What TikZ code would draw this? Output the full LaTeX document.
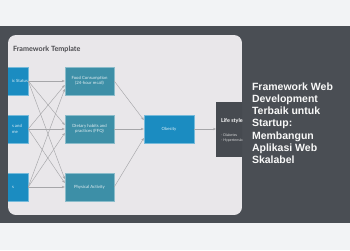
\documentclass[tikz,border=0pt]{standalone}
\usepackage{fontspec}
\setmainfont{Lato}
\newfontfamily\headfont{Liberation Sans}
\usetikzlibrary{arrows.meta, calc}
\definecolor{band}{HTML}{F2F3F5}
\definecolor{slate}{HTML}{4A4E54}
\definecolor{card}{HTML}{E9E7EA}
\definecolor{cyanbox}{HTML}{1B8CC1}
\definecolor{tealbox}{HTML}{3D8FA7}
\definecolor{lifebox}{HTML}{464A50}
\definecolor{wire}{HTML}{A6A6A9}
\definecolor{titleink}{HTML}{4A4A4E}

\begin{document}
\begin{tikzpicture}[x=1pt, y=-1pt,
    cbox/.style={fill=cyanbox, draw=cyanbox!60!white, line width=0.4pt, inner sep=0pt},
    tbox/.style={fill=tealbox, draw=tealbox!60!white, line width=0.4pt, inner sep=0pt,
      minimum width=49pt, minimum height=28pt, align=center, text=white!85!tealbox,
      font=\fontsize{4.3}{5.4}\selectfont},
    arr/.style={-{Stealth[length=3pt, width=2.4pt]}, wire, line width=0.45pt}]
    \useasboundingbox (0,0) rectangle (350,250);
    \fill[band](0,0)rectangle(350,250);
    \fill[slate](0,26)rectangle(350,223);
    \begin{scope}
      \clip[rounded corners=8pt](8,35)rectangle(242,215);
      \fill[card](8,35)rectangle(242,215);
      \node[anchor=west, titleink, font=\bfseries\fontsize{7.2}{8}\selectfont] (title) at (9.5,49) {Framework Template};
      \node[cbox, minimum width=24pt, minimum height=28pt] (s1) at (16,81) {};
      \node[cbox, minimum width=24pt, minimum height=28pt] (s2) at (16,129) {};
      \node[cbox, minimum width=24pt, minimum height=28pt] (s3) at (16,187) {};
      \node[anchor=west, white!85!cyanbox, font=\fontsize{4.3}{5.4}\selectfont] (t1) at (8.5,81) {ic Status};
      \node[anchor=west, align=left, white!85!cyanbox, font=\fontsize{4.3}{5.6}\selectfont] (t2) at (8.5,129) {s and\\me};
      \node[anchor=west, white!85!cyanbox, font=\fontsize{4.3}{5.4}\selectfont] (t3) at (8.5,187) {s};
      \node[tbox] (m1) at (89.5,81) {Food Consumption\\(24-hour recall)};
      \node[tbox] (m2) at (89.5,129) {Dietary habits and\\practices (FFQ)};
      \node[tbox] (m3) at (89.5,187) {Physical Activity};
      \node[cbox, minimum width=50pt, minimum height=28pt, text=white!85!cyanbox,
        font=\fontsize{4.3}{5.4}\selectfont] (ob) at (169,129) {Obesity};
      \fill[lifebox](216,102)rectangle(250,157);
      \node[anchor=west, white, font=\bfseries\fontsize{5.4}{6}\selectfont] (ls) at (217.5,121) {Life style};
      \node[anchor=north west, align=left, white!80!lifebox, font=\fontsize{3.6}{5.2}\selectfont] (ill) at (217.5,130) {- Diabetes\\- Hypertension};
      \coordinate (lsin) at (216,129);
      \foreach \i in {1,2,3}
        \foreach \j in {1,2,3}
          \draw[arr] (s\i.east) -- ($(m\j.west)+(0,{(\i-\j)*4})$);
      \foreach \j in {1,2,3}
        \draw[arr] (m\j.east) -- ($(ob.west)+(0,{(\j-2)*9})$);
      \draw[arr] (ob.east) -- (lsin);
    \end{scope}
    \node[anchor=north west, align=left, text=white!96!slate,
      font=\headfont\bfseries\fontsize{10.5}{12.25}\selectfont] (head) at (248.5,79) {Framework Web\\Development\\Terbaik untuk\\Startup:\\Membangun\\Aplikasi Web\\Skalabel};
  \end{tikzpicture}
\end{document}
